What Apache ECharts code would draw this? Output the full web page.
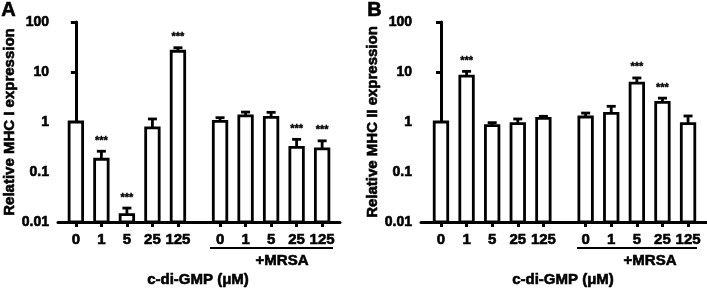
<!DOCTYPE html>
<html>
<head>
<meta charset="utf-8">
<script src="https://cdn.jsdelivr.net/npm/echarts@6/dist/echarts.min.js"></script>
<style>
  html, body { margin: 0; padding: 0; background: #fff; }
  #chart { width: 707px; height: 288px; }
</style>
</head>
<body>
<div id="chart"></div>
<script>
// doses of c-di-GMP (µM), first 5 without MRSA, last 5 with MRSA
const doses = ['0', '1', '5', '25', '125', '0', '1', '5', '25', '125'];

// A: relative MHC I expression (mean, SD, significance)
const mhc1Mean = [1, 0.18, 0.014, 0.76, 26, 1.03, 1.32, 1.24, 0.31, 0.29];
const mhc1Sd   = [0, 0.08, 0.005, 0.39, 4.6, 0.19, 0.26, 0.32, 0.14, 0.13];
const mhc1Sig  = ['', '***', '***', '', '***', '', '', '', '***', '***'];

// B: relative MHC II expression
const mhc2Mean = [1, 8.3, 0.845, 0.93, 1.18, 1.26, 1.49, 6.0, 2.47, 0.93];
const mhc2Sd   = [0, 2.0, 0.125, 0.22, 0.12, 0.25, 0.57, 1.6, 0.53, 0.39];
const mhc2Sig  = ['', '***', '', '', '', '', '', '***', '***', ''];

const yTicks = [0.01, 0.1, 1, 10, 100];

const Y_MIN = 0.01;
const GAP = 0.65;           // extra space between the two groups
const FONT = 'Arial';
// немного "утолщаем" жирный шрифт обводкой
const heavy = { color: '#000', fontFamily: FONT, fontWeight: 'bold', textBorderColor: '#000', textBorderWidth: 0.6 };

const pos = i => i + (i >= 5 ? GAP : 0);
const positions = doses.map((d, i) => pos(i));

function labelFor(v) {
    const i = positions.findIndex(p => Math.abs(p - v) < 1e-6);
    return i < 0 ? '' : doses[i];
}

// бары + планки погрешностей + звездочки
function barRenderer(sig) {
    return function (params, api) {
        const x = api.value(0);
        const mean = api.value(1);
        const upper = api.value(2);
        const top = api.coord([x, mean]);
        const base = api.coord([x, Y_MIN]);
        const cap = api.coord([x, upper]);
        const w = 13.5;
        const children = [{
            type: 'rect',
            shape: { x: top[0] - w / 2, y: top[1], width: w, height: base[1] - top[1] },
            style: { fill: '#fff', stroke: '#000', lineWidth: 2.8 }
        }];
        if (upper > mean) {
            children.push({
                type: 'line',
                shape: { x1: top[0], y1: top[1], x2: cap[0], y2: cap[1] },
                style: { stroke: '#000', lineWidth: 2.8 }
            }, {
                type: 'line',
                shape: { x1: cap[0] - 4.5, y1: cap[1], x2: cap[0] + 4.5, y2: cap[1] },
                style: { stroke: '#000', lineWidth: 2.8 }
            });
        }
        const s = sig[params.dataIndex];
        if (s) {
            children.push({
                type: 'text',
                style: {
                    text: s, x: top[0], y: cap[1] - 5,
                    align: 'center', verticalAlign: 'bottom',
                    fontFamily: FONT, fontWeight: 'bold', fontSize: 11, fill: '#000',
                    stroke: '#000', lineWidth: 0.4
                }
            });
        }
        return { type: 'group', children };
    };
}

const axisStyle = { lineStyle: { color: '#000', width: 3 } };
const tickStyle = { show: true, length: 5, lineStyle: { color: '#000', width: 3 } };

function xAxisFor(grid, min, max) {
    return {
        type: 'value', gridIndex: grid, min, max,
        axisLine: { show: true, ...axisStyle },
        axisTick: { ...tickStyle, customValues: positions },
        axisLabel: {
            customValues: positions,
            formatter: labelFor,
            margin: 10,
            fontSize: 15, ...heavy
        },
        splitLine: { show: false }
    };
}

function yAxisFor(grid, name) {
    return {
        type: 'log', logBase: 10, gridIndex: grid, min: 0.01, max: 100,
        name, nameLocation: 'middle', nameGap: 37,
        nameTextStyle: { fontSize: 15, ...heavy },
        axisLine: { show: true, ...axisStyle },
        axisTick: { ...tickStyle, customValues: yTicks },
        axisLabel: {
            customValues: yTicks,
            formatter: v => String(+v.toPrecision(3)),
            margin: 9,
            fontSize: 14, ...heavy
        },
        minorTick: { show: false },
        splitLine: { show: false }
    };
}

const toData = (mean, sd) => mean.map((m, i) => [positions[i], m, m + sd[i]]);

const chart = echarts.init(document.getElementById('chart'), null, { renderer: 'canvas' });

const textStyle = (text, x, y, size) => ({
    type: 'text', x, y,
    style: {
        text, fontFamily: FONT, fontWeight: 'bold', fontSize: size,
        fill: '#000', stroke: '#000', lineWidth: 0.6, align: 'center', verticalAlign: 'middle'
    }
});

chart.setOption({
    animation: false,
    backgroundColor: '#fff',
    grid: [
        { left: 58, top: 22, width: 282, height: 200 },
        { left: 421, top: 22, width: 286, height: 200 }
    ],
    xAxis: [xAxisFor(0, -0.7, 10.35), xAxisFor(1, -0.78, 10.39)],
    yAxis: [yAxisFor(0, 'Relative MHC I expression'), yAxisFor(1, 'Relative MHC II expression')],
    series: [
        {
            type: 'custom', xAxisIndex: 0, yAxisIndex: 0,
            renderItem: barRenderer(mhc1Sig),
            encode: { x: 0, y: 1 },
            data: toData(mhc1Mean, mhc1Sd)
        },
        {
            type: 'custom', xAxisIndex: 1, yAxisIndex: 1,
            renderItem: barRenderer(mhc2Sig),
            encode: { x: 0, y: 1 },
            data: toData(mhc2Mean, mhc2Sd)
        }
    ],
    graphic: [
        { type: 'text', left: 1, top: 0, style: { text: 'A', fontFamily: FONT, fontWeight: 'bold', fontSize: 20, fill: '#000', stroke: '#000', lineWidth: 0.6 } },
        { type: 'text', left: 367, top: 0, style: { text: 'B', fontFamily: FONT, fontWeight: 'bold', fontSize: 20, fill: '#000', stroke: '#000', lineWidth: 0.6 } },
        { type: 'line', shape: { x1: 210, y1: 248, x2: 333, y2: 248 }, style: { stroke: '#000', lineWidth: 2.2 } },
        { type: 'line', shape: { x1: 577, y1: 248, x2: 697, y2: 248 }, style: { stroke: '#000', lineWidth: 2.2 } },
        textStyle('+MRSA', 282, 261, 15),
        textStyle('+MRSA', 650, 261, 15),
        textStyle('c-di-GMP (μM)', 198, 280, 15),
        textStyle('c-di-GMP (μM)', 563, 280, 15)
    ]
});
</script>
</body>
</html>
